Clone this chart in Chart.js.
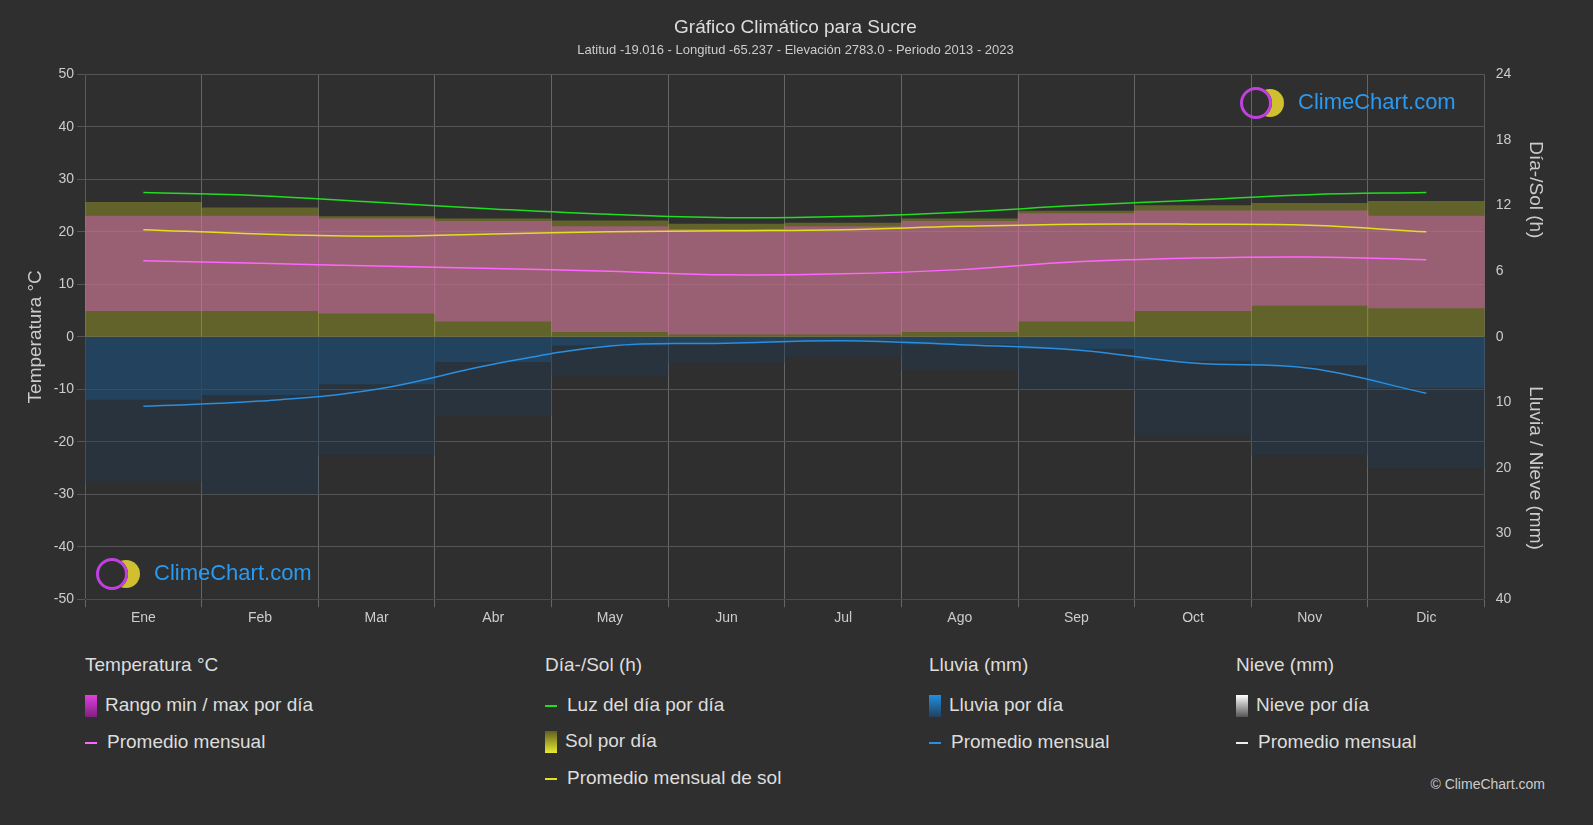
<!DOCTYPE html><html><head><meta charset="utf-8">
<script src="https://cdn.jsdelivr.net/npm/chart.js@4/dist/chart.umd.min.js"></script>
<style>
body{margin:0;background:#2f2f2f;font-family:"Liberation Sans",Arial,sans-serif;color:#ddd;width:1593px;height:825px;overflow:hidden;position:relative}
#wrap{position:absolute;left:0;top:0;width:1593px;height:630px}
.leg{position:absolute;font-size:19px;color:#ddd}
.h{font-size:19px}
.sw{display:inline-block;width:12px;height:22px;vertical-align:middle;margin-right:8px}
.ln{display:inline-block;width:12px;height:2px;vertical-align:middle;margin-right:10px}
</style></head><body>
<div id="wrap"><canvas id="c" width="1593" height="630"></canvas></div>
<div class="leg" style="left:85px;top:654px"><div class="h">Temperatura °C</div>
<div style="margin-top:18px"><span class="sw" style="background:linear-gradient(#e040e0,#802080)"></span>Rango min / max por día</div>
<div style="margin-top:14px"><span class="ln" style="background:#ff66ff"></span>Promedio mensual</div></div>
<div class="leg" style="left:545px;top:654px"><div class="h">Día-/Sol (h)</div>
<div style="margin-top:18px"><span class="ln" style="background:#22dd22"></span>Luz del día por día</div>
<div style="margin-top:14px"><span class="sw" style="background:linear-gradient(#606020,#e8e830)"></span>Sol por día</div>
<div style="margin-top:14px"><span class="ln" style="background:#e0e020"></span>Promedio mensual de sol</div></div>
<div class="leg" style="left:929px;top:654px"><div class="h">Lluvia (mm)</div>
<div style="margin-top:18px"><span class="sw" style="background:linear-gradient(#2090e0,#204060)"></span>Lluvia por día</div>
<div style="margin-top:14px"><span class="ln" style="background:#2a8fe0"></span>Promedio mensual</div></div>
<div class="leg" style="left:1236px;top:654px"><div class="h">Nieve (mm)</div>
<div style="margin-top:18px"><span class="sw" style="background:linear-gradient(#fff,#555)"></span>Nieve por día</div>
<div style="margin-top:14px"><span class="ln" style="background:#eee"></span>Promedio mensual</div></div>
<div style="position:absolute;right:48px;top:776px;font-size:14px;color:#ccc">© ClimeChart.com</div>
<div style="position:absolute;left:1240px;top:87px;font-size:22px;color:#2a9af0"><span style="display:inline-block;width:26px;height:26px;border-radius:50%;border:3px solid #c040e0;vertical-align:middle;margin-right:26px;box-shadow:14px 0 0 -2px #d0c030"></span>ClimeChart.com</div>
<div style="position:absolute;left:96px;top:558px;font-size:22px;color:#2a9af0"><span style="display:inline-block;width:26px;height:26px;border-radius:50%;border:3px solid #c040e0;vertical-align:middle;margin-right:26px;box-shadow:14px 0 0 -2px #d0c030"></span>ClimeChart.com</div>
<script>
const months=["Ene","Feb","Mar","Abr","May","Jun","Jul","Ago","Sep","Oct","Nov","Dic"];
const tempMean=[14.5,14.0,13.5,13.0,12.5,11.8,12.0,12.8,14.3,15.0,15.2,14.7];
const tempMin=[5,5,4.5,3,1,0.5,0.5,1,3,5,6,5.5];
const tempMax=[23,23,22.5,22,21,20.5,21,22,23.5,24,24,23];
const daylightH=[13.2,12.9,12.3,11.7,11.2,10.9,11.0,11.4,12.0,12.5,13.0,13.2];
const sunH=[9.8,9.4,9.2,9.4,9.6,9.7,9.8,10.1,10.3,10.3,10.2,9.6];
const sunDayMaxH=[12.3,11.8,11.0,10.8,10.6,10.3,10.4,10.8,11.5,12.0,12.2,12.4];
const rainMm=[10.6,9.8,8.0,4.2,1.4,1.0,0.6,1.2,2.0,4.0,4.8,8.6];
const rainDayMm=[22,24,18,12,6,4,3,5,8,15,18,20];
const h2t=h=>h*50/24, mm2t=m=>-m*1.25;
const rightTitles={id:'rt',afterDraw(c){const x=c.ctx,a=c.chartArea;
[['Día-/Sol (h)',0.22],['Lluvia / Nieve (mm)',0.75]].forEach(([t,f])=>{x.save();x.fillStyle='#ccc';x.font='19px "Liberation Sans"';x.textAlign='center';
x.translate(1530,a.top+a.height*f);x.rotate(Math.PI/2);x.fillText(t,0,0);x.restore();});}};
new Chart(document.getElementById('c'),{data:{labels:months,datasets:[
{type:'line',data:daylightH.map(h2t),borderColor:'#22dd22',borderWidth:1.5,pointRadius:0,tension:0.4},
{type:'line',data:sunH.map(h2t),borderColor:'#e0e020',borderWidth:1.5,pointRadius:0,tension:0.4},
{type:'line',data:tempMean,borderColor:'#ff66ff',borderWidth:1.5,pointRadius:0,tension:0.4},
{type:'line',data:rainMm.map(mm2t),borderColor:'#2a8fe0',borderWidth:1.5,pointRadius:0,tension:0.4},
{type:'bar',data:tempMin.map((v,i)=>[v,tempMax[i]]),backgroundColor:'rgba(220,90,200,0.45)',barPercentage:1,categoryPercentage:1,grouped:false},
{type:'bar',data:sunDayMaxH.map(h2t),backgroundColor:'rgba(150,150,40,0.5)',barPercentage:1,categoryPercentage:1,grouped:false},
{type:'bar',data:rainDayMm.map(mm2t),backgroundColor:'rgba(30,60,90,0.35)',barPercentage:1,categoryPercentage:1,grouped:false},
{type:'bar',data:rainMm.map(v=>mm2t(v*0.9)),backgroundColor:'rgba(30,100,160,0.45)',barPercentage:1,categoryPercentage:1,grouped:false}
]},options:{responsive:false,animation:false,
layout:{padding:{left:20,right:22,top:6}},
plugins:{legend:{display:false},tooltip:{enabled:false},
title:{display:true,text:'Gráfico Climático para Sucre',color:'#ddd',font:{size:19,weight:'normal'},padding:{top:10,bottom:4}},
subtitle:{display:true,text:'Latitud -19.016 - Longitud -65.237 - Elevación 2783.0 - Periodo 2013 - 2023',color:'#ccc',font:{size:13},padding:{bottom:16}}},
scales:{x:{offset:true,grid:{color:'#666',offset:true},ticks:{color:'#ccc',font:{size:14}}},
y:{min:-50,max:50,ticks:{stepSize:10,color:'#ccc',font:{size:14}},grid:{color:'#555'},title:{display:true,text:'Temperatura °C',color:'#ccc',font:{size:19}}},
y2:{position:'right',min:-50,max:50,grid:{display:false},
afterBuildTicks(s){s.ticks=[50,37.5,25,12.5,0,-12.5,-25,-37.5,-50].map(v=>({value:v}));},
ticks:{color:'#ccc',font:{size:14},callback:v=>v>=0?String(Math.round(v*24/50)):String(Math.round(-v/1.25))},
title:{display:true,text:' ',font:{size:19},padding:{top:30}}}}},
plugins:[rightTitles]});
</script>
</body></html>
